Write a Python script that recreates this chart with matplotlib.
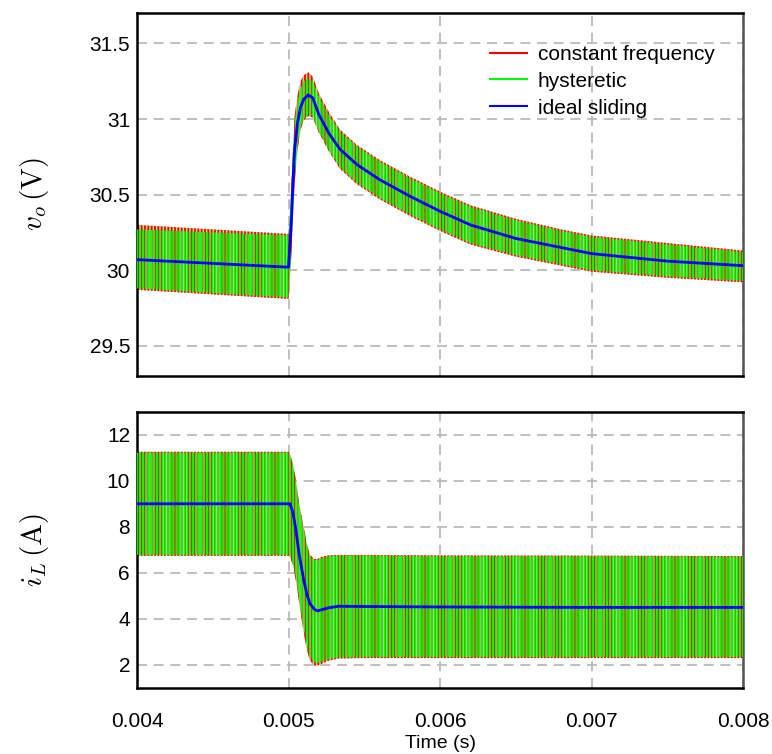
import matplotlib
matplotlib.use('Agg')
import matplotlib.pyplot as plt
from matplotlib.lines import Line2D

plt.rcParams['font.family'] = ['Liberation Sans', 'DejaVu Sans']
plt.rcParams['mathtext.fontset'] = 'cm'
plt.rcParams['hatch.linewidth'] = 1.3

# output voltage v_o
t_v = [0.004, 0.0045, 0.00500, 0.00502, 0.00503, 0.00504, 0.00506, 0.00508, 0.00510,
       0.00513, 0.00516, 0.0052, 0.00527, 0.00534, 0.00545, 0.0056, 0.0058, 0.0060,
       0.0062, 0.0065, 0.0068, 0.0070, 0.0075, 0.008]
vo_ideal = [30.07, 30.045, 30.02, 30.35, 30.6, 30.8, 30.98, 31.08, 31.13,
            31.16, 31.14, 31.03, 30.9, 30.8, 30.7, 30.6, 30.49, 30.39,
            30.3, 30.21, 30.15, 30.11, 30.06, 30.03]
vo_hyst_hi = [30.27, 30.25, 30.23, 30.55, 30.8, 30.98, 31.12, 31.2, 31.25,
              31.27, 31.25, 31.15, 31.02, 30.92, 30.82, 30.72, 30.61, 30.51,
              30.42, 30.33, 30.26, 30.22, 30.17, 30.12]
vo_hyst_lo = [29.88, 29.85, 29.82, 30.15, 30.4, 30.6, 30.83, 30.95, 31.0,
              31.03, 31.02, 30.92, 30.79, 30.68, 30.58, 30.48, 30.37, 30.27,
              30.18, 30.1, 30.04, 30.0, 29.96, 29.93]
vo_cf_hi = [30.3, 30.27, 30.24, 30.58, 30.84, 31.02, 31.16, 31.25, 31.29,
            31.31, 31.28, 31.17, 31.04, 30.93, 30.83, 30.73, 30.62, 30.52,
            30.43, 30.34, 30.27, 30.23, 30.18, 30.13]
vo_cf_lo = [29.87, 29.84, 29.81, 30.12, 30.37, 30.57, 30.8, 30.93, 30.99,
            31.02, 31.01, 30.91, 30.78, 30.67, 30.57, 30.47, 30.36, 30.26,
            30.17, 30.09, 30.03, 29.99, 29.95, 29.92]

# inductor current i_L
t_i = [0.004, 0.0045, 0.00500, 0.00501, 0.00503, 0.00505, 0.00507, 0.00510, 0.00512,
       0.00514, 0.00517, 0.00519, 0.00522, 0.00526, 0.00533, 0.0055, 0.006, 0.007, 0.008]
il_ideal = [9.0, 9.0, 9.0, 9.0, 8.6, 7.8, 6.8, 5.7, 5.1,
            4.68, 4.42, 4.35, 4.4, 4.48, 4.55, 4.54, 4.52, 4.5, 4.5]
il_hyst_hi = [11.22, 11.22, 11.22, 11.1, 10.6, 9.9, 8.9, 7.9, 7.2,
              6.7, 6.55, 6.55, 6.65, 6.72, 6.75, 6.75, 6.72, 6.72, 6.7]
il_hyst_lo = [6.78, 6.78, 6.78, 6.8, 6.4, 5.8, 4.9, 3.6, 2.9,
              2.4, 2.12, 2.1, 2.15, 2.25, 2.33, 2.35, 2.35, 2.35, 2.35]
il_cf_hi = [11.26, 11.26, 11.26, 11.15, 10.7, 10.0, 9.0, 8.0, 7.3,
            6.8, 6.6, 6.6, 6.7, 6.76, 6.78, 6.78, 6.76, 6.75, 6.73]
il_cf_lo = [6.74, 6.74, 6.74, 6.7, 6.3, 5.6, 4.7, 3.4, 2.7,
            2.2, 1.98, 1.97, 2.05, 2.18, 2.28, 2.3, 2.3, 2.3, 2.3]

x_ticks = [0.004, 0.005, 0.006, 0.007, 0.008]
x_ticklabels = ['0.004', '0.005', '0.006', '0.007', '0.008']
vo_ticks = [29.5, 30, 30.5, 31, 31.5]
vo_ticklabels = ['29.5', '30', '30.5', '31', '31.5']
il_ticks = [2, 4, 6, 8, 10, 12]

RED = '#ff0000'
GREEN = '#00ff00'
BLUE = '#0000ff'

fig = plt.figure(figsize=(7.72, 7.54), dpi=100)
ax1 = fig.add_axes([0.1775, 0.5013, 0.785, 0.4811])
ax2 = fig.add_axes([0.1775, 0.0875, 0.785, 0.3665])


def ripple_band(ax, t, cf_lo, cf_hi, hy_lo, hy_hi):
    # switching ripple drawn as dense vertical hatching between the envelopes
    ax.fill_between(t, cf_lo, cf_hi, facecolor='#b8d890', edgecolor=RED,
                    hatch='|||||', linewidth=0, zorder=2)
    ax.fill_between(t, hy_lo, hy_hi, facecolor='none', edgecolor=GREEN,
                    hatch='||||||', linewidth=0, zorder=3)


def style_axes(ax):
    ax.set_xlim(0.004, 0.008)
    ax.set_xticks(x_ticks)
    ax.grid(True, color='#b4b4b4', linestyle=(0, (6, 4)), linewidth=1.2)
    ax.set_axisbelow(True)
    ax.tick_params(length=0, labelsize=15, pad=5)
    for sp in ax.spines.values():
        sp.set_linewidth(1.8)
        sp.set_color('black')
    ax.spines['right'].set_color('#555555')


ripple_band(ax1, t_v, vo_cf_lo, vo_cf_hi, vo_hyst_lo, vo_hyst_hi)
ax1.plot(t_v, vo_ideal, color=BLUE, linewidth=2, zorder=4)
style_axes(ax1)
ax1.set_ylim(29.3, 31.7)
ax1.set_yticks(vo_ticks)
ax1.set_yticklabels(vo_ticklabels)
ax1.set_xticklabels([])
ax1.set_ylabel(r'$v_o\,(\mathrm{V})$', fontsize=21)
ax1.yaxis.set_label_coords(-0.142, 0.5)

handles = [Line2D([], [], color=RED, lw=1.5),
           Line2D([], [], color=GREEN, lw=1.5),
           Line2D([], [], color=BLUE, lw=1.5)]
ax1.legend(handles, ['constant frequency', 'hysteretic', 'ideal sliding'],
           loc='upper left', bbox_to_anchor=(0.582, 0.913), frameon=False,
           borderpad=0, borderaxespad=0,
           fontsize=15, handlelength=1.8, handletextpad=0.5, labelspacing=0.38)

ripple_band(ax2, t_i, il_cf_lo, il_cf_hi, il_hyst_lo, il_hyst_hi)
ax2.plot(t_i, il_ideal, color=BLUE, linewidth=2, zorder=4)
style_axes(ax2)
ax2.set_ylim(1, 13)
ax2.set_yticks(il_ticks)
ax2.set_xticklabels(x_ticklabels)
ax2.tick_params(axis='x', pad=17)
ax2.set_xlabel('Time (s)', fontsize=14, labelpad=3)
ax2.set_ylabel(r'$i_L\,(\mathrm{A})$', fontsize=21)
ax2.yaxis.set_label_coords(-0.142, 0.5)

fig.savefig('out.png', dpi=100)
